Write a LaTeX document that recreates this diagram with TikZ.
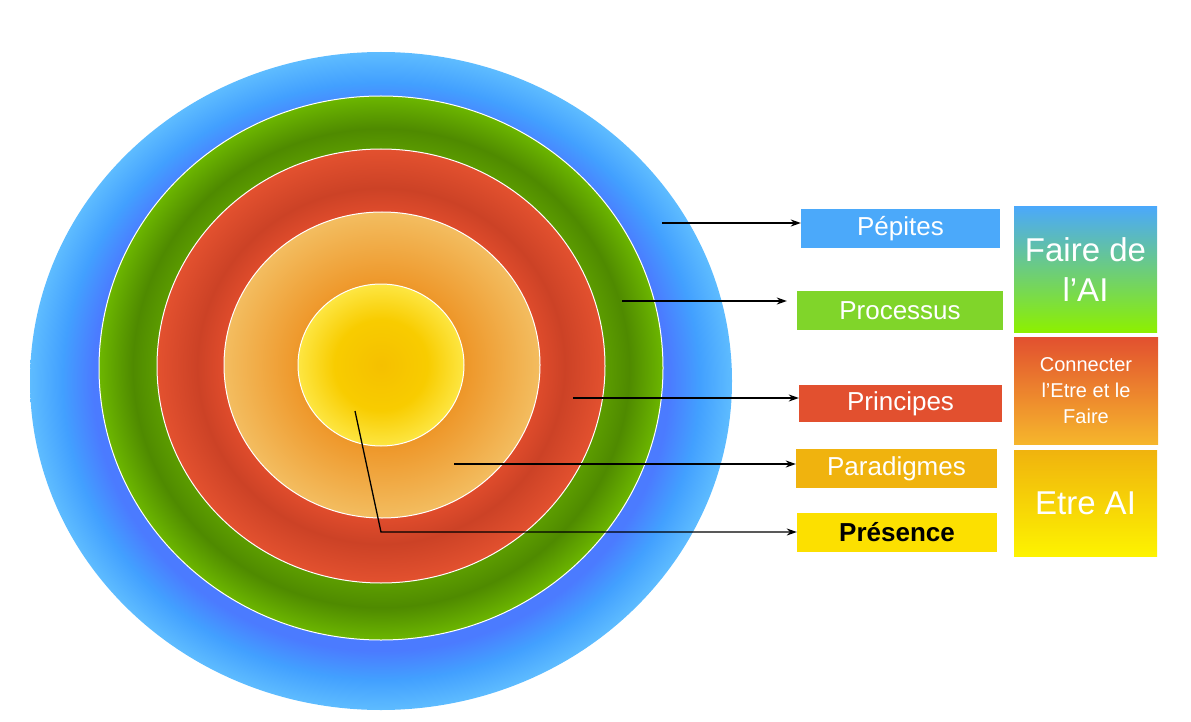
\documentclass[tikz,border=0pt]{standalone}
\usepackage{fontspec}
\setmainfont{Liberation Sans}
\usetikzlibrary{arrows.meta}

\definecolor{bluedeep}{HTML}{4B7BFF}
\definecolor{bluemid}{HTML}{42A0FF}
\definecolor{bluelight}{HTML}{5EBCFF}
\definecolor{greenin}{HTML}{5B9B00}
\definecolor{greendark}{HTML}{4F8A00}
\definecolor{greenout}{HTML}{6CB600}
\definecolor{redin}{HTML}{E04C2C}
\definecolor{reddark}{HTML}{CC4226}
\definecolor{redout}{HTML}{E3512F}
\definecolor{orangein}{HTML}{EE9628}
\definecolor{orangeout}{HTML}{F3BD60}
\definecolor{yellowin}{HTML}{F5C000}
\definecolor{yellowmid}{HTML}{F8CC00}
\definecolor{yellowout}{HTML}{FDE642}
\definecolor{tagblue}{HTML}{4BA9FA}
\definecolor{taggreen}{HTML}{80D52A}
\definecolor{tagred}{HTML}{E2502F}
\definecolor{tagorange}{HTML}{F0B30E}
\definecolor{tagyellow}{HTML}{FCE000}
\definecolor{sidegreen}{HTML}{8DF000}
\definecolor{sideorange}{HTML}{F6B62C}
\definecolor{sideyellow}{HTML}{FDF300}

\pgfdeclareradialshading{ringblue}{\pgfpoint{0bp}{0bp}}{color(0bp)=(bluedeep); color(20.5bp)=(bluedeep); color(22.7bp)=(bluemid); color(25bp)=(bluelight); color(50bp)=(bluelight)}
\pgfdeclareradialshading{ringgreen}{\pgfpoint{0bp}{0bp}}{color(0bp)=(greenin); color(20bp)=(greenin); color(22bp)=(greendark); color(25bp)=(greenout); color(50bp)=(greenout)}
\pgfdeclareradialshading{ringred}{\pgfpoint{0bp}{0bp}}{color(0bp)=(redin); color(17.5bp)=(redin); color(20.5bp)=(reddark); color(25bp)=(redout); color(50bp)=(redout)}
\pgfdeclareradialshading{ringorange}{\pgfpoint{0bp}{0bp}}{color(0bp)=(orangein); color(13bp)=(orangein); color(25bp)=(orangeout); color(50bp)=(orangeout)}
\pgfdeclareradialshading{ringyellow}{\pgfpoint{0bp}{0bp}}{color(0bp)=(yellowin); color(14bp)=(yellowmid); color(25bp)=(yellowout); color(50bp)=(yellowout)}

\tikzset{
    tagbox/.style={inner sep=0pt, minimum height=39pt, text=white,
        font=\fontsize{26}{30}\selectfont},
    sidebox/.style={inner sep=0pt, minimum width=143pt, text=white, align=center},
    pointer/.style={draw=black, line width=1.3pt, -{Stealth[length=10pt,width=7pt]}}
}

\begin{document}
\begin{tikzpicture}[x=1pt,y=-1pt]
    \useasboundingbox (0,0) rectangle (1191,722);
    \shade[shading=ringblue] (381,381) ellipse [x radius=351, y radius=329];
    \shadedraw[shading=ringgreen, draw=white, line width=1pt] (381,368) ellipse [x radius=282, y radius=272];
    \shadedraw[shading=ringred, draw=white, line width=1pt] (381,366) ellipse [x radius=224, y radius=217];
    \shadedraw[shading=ringorange, draw=white, line width=1pt] (382,365) ellipse [x radius=158, y radius=153];
    \shadedraw[shading=ringyellow, draw=white, line width=1pt] (381,365) ellipse [x radius=83, y radius=81];

    \node[tagbox, fill=tagblue, minimum width=199pt] (pepites) at (900.5,228.5) {Pépites};
    \node[tagbox, fill=taggreen, minimum width=206pt] (processus) at (900,310.5) {Processus};
    \node[tagbox, fill=tagred, minimum width=203pt, minimum height=37pt] (principes) at (900.5,403.5) {Principes};
    \node[tagbox, fill=tagorange, minimum width=201pt] (paradigmes) at (896.5,468.5) {Paradigmes};
    \node[tagbox, fill=tagyellow, minimum width=200pt, text=black, font=\fontsize{26}{30}\selectfont\bfseries] (presence) at (897,532.5) {Présence};

    \node[sidebox, minimum height=125pt, top color=tagblue, bottom color=sidegreen, font=\fontsize{33}{40}\selectfont] (faire) at (1085.5,269.5) {Faire de\\l’AI};
    \node[sidebox, minimum height=107pt, minimum width=144pt, top color=tagred, bottom color=sideorange, font=\fontsize{20}{26}\selectfont] (connecter) at (1086,390.5) {Connecter\\l’Etre et le\\Faire};
    \node[sidebox, minimum height=106pt, top color=tagorange, bottom color=sideyellow, font=\fontsize{33}{40}\selectfont] (etre) at (1085.5,503) {Etre AI};

    \coordinate (pepS) at (662,223);
    \coordinate (procS) at (622,301);
    \coordinate (princS) at (573,398);
    \coordinate (paraS) at (454,464);
    \coordinate (presS) at (355,411);
    \coordinate (presK) at (381,532);
    \draw[pointer] (pepS) -- (pepites.west |- pepS);
    \draw[pointer, shorten >=10pt] (procS) -- (processus.west |- procS);
    \draw[pointer] (princS) -- (principes.west |- princS);
    \draw[pointer] (paraS) -- (paradigmes.west |- paraS);
    \draw[pointer] (presS) -- (presK) -- (presence.west |- presK);
\end{tikzpicture}
\end{document}
